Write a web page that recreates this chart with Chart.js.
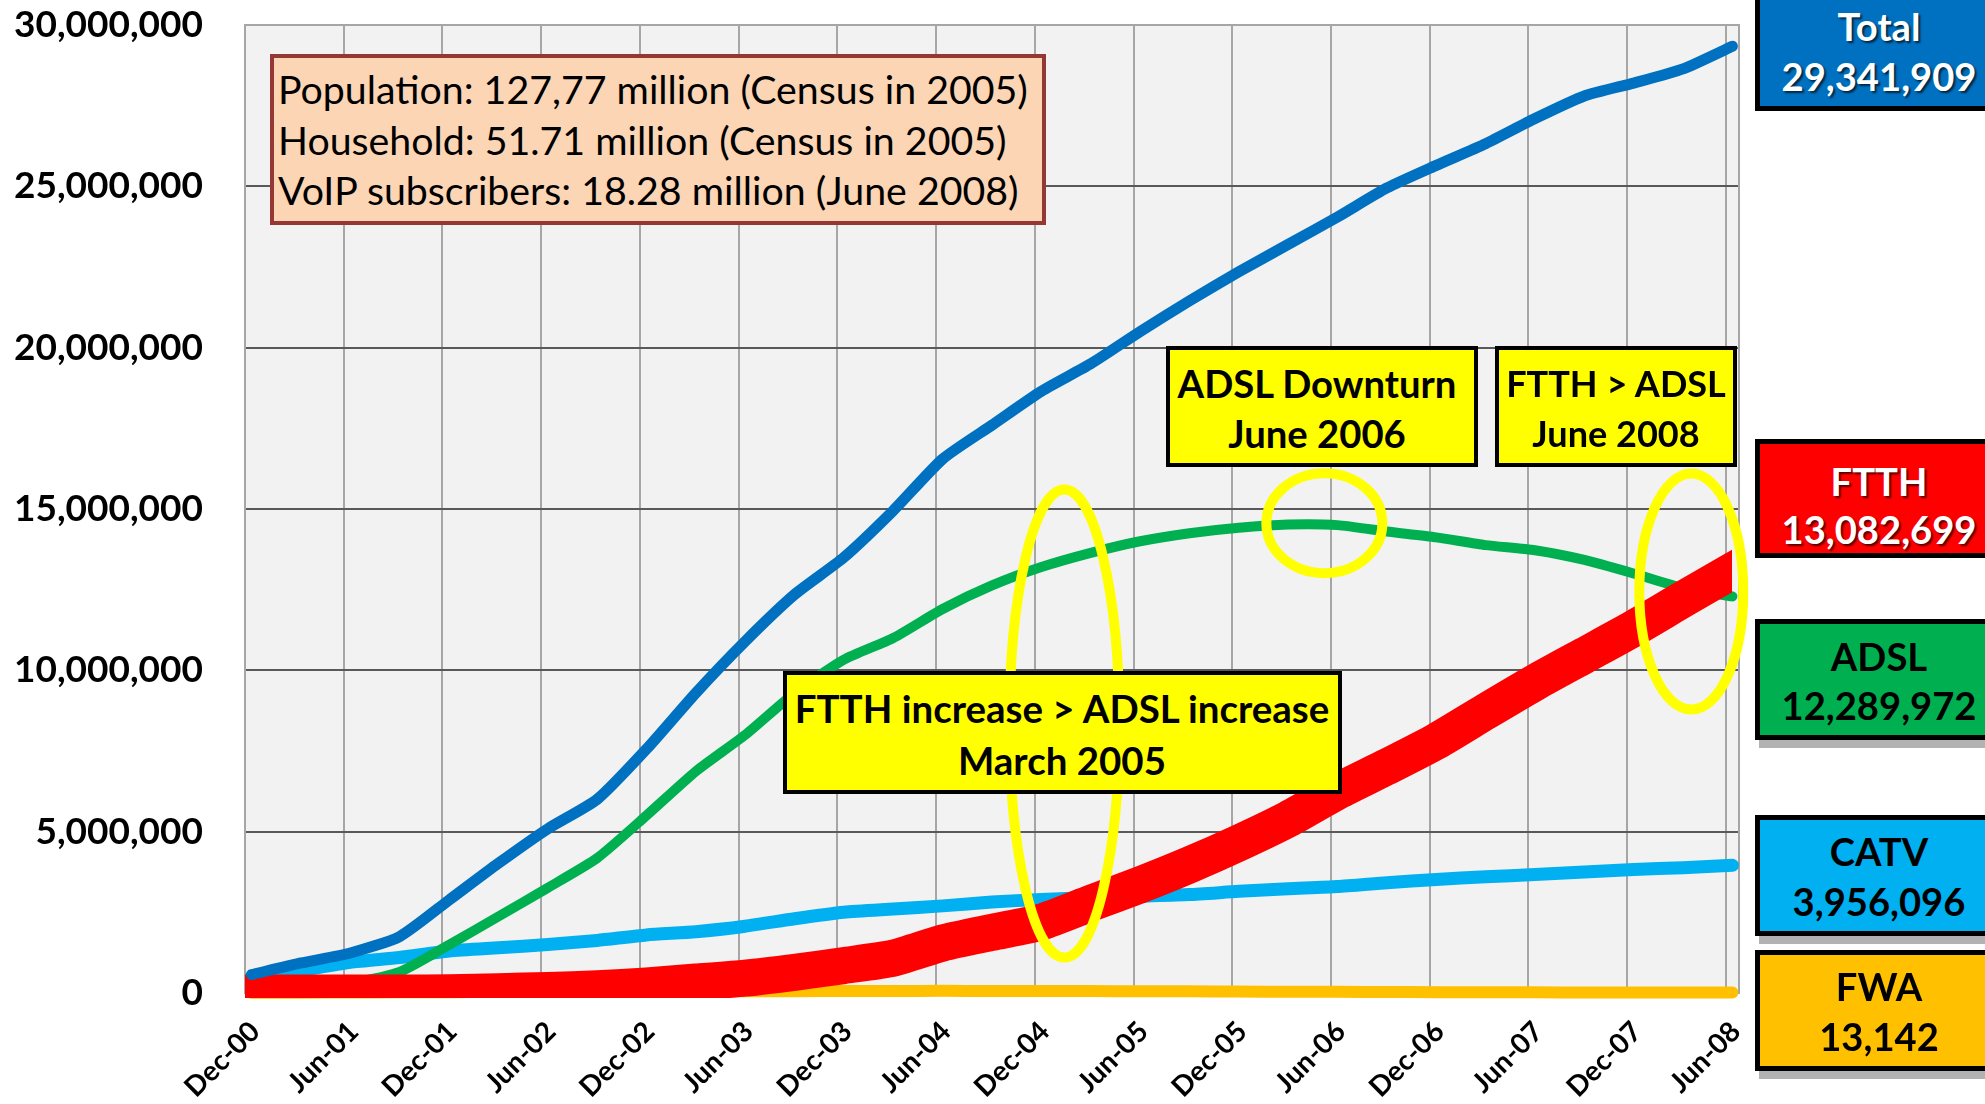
<!DOCTYPE html>
<html><head><meta charset="utf-8">
<script src="https://cdn.jsdelivr.net/npm/chart.js@4.4.1/dist/chart.umd.min.js"></script>
<style>
html,body{margin:0;padding:0;background:#fff;overflow:hidden;}
#wrap{position:relative;width:1985px;height:1104px;overflow:hidden;}
canvas{position:absolute;left:0;top:0;}
.box{position:absolute;box-sizing:border-box;}
.t{position:absolute;white-space:nowrap;font-family:Lato,sans-serif;line-height:1;transform:translate(-50%,-50%);}
.tl{position:absolute;white-space:nowrap;font-family:Lato,sans-serif;line-height:1;transform:translate(0,-50%);}
</style></head><body>
<div id="wrap"><canvas id="c" width="1985" height="1104"></canvas></div>
<script>
// ---- data ----
const quarters = ['Dec-00','Mar-01','Jun-01','Sep-01','Dec-01','Mar-02','Jun-02','Sep-02','Dec-02','Mar-03','Jun-03','Sep-03','Dec-03','Mar-04','Jun-04','Sep-04','Dec-04','Mar-05','Jun-05','Sep-05','Dec-05','Mar-06','Jun-06','Sep-06','Dec-06','Mar-07','Jun-07','Sep-07','Dec-07','Mar-08','Jun-08'];
const tickLabels = ['Dec-00','Jun-01','Dec-01','Jun-02','Dec-02','Jun-03','Dec-03','Jun-04','Dec-04','Jun-05','Dec-05','Jun-06','Dec-06','Jun-07','Dec-07','Jun-08'];
const yTicks = [0, 5000000, 10000000, 15000000, 20000000, 25000000, 30000000];
const total = [570000, 930000, 1240000, 1750000, 2880000, 4020000, 5090000, 6000000, 7560000, 9300000, 10900000, 12350000, 13500000, 14950000, 16550000, 17600000, 18650000, 19500000, 20500000, 21450000, 22350000, 23200000, 24050000, 24950000, 25650000, 26320000, 27100000, 27800000, 28200000, 28640000, 29341909];
const ftth  = [0, 0, 0, 0, 10000, 40000, 80000, 130000, 220000, 340000, 460000, 640000, 850000, 1080000, 1550000, 1880000, 2200000, 2780000, 3350000, 3970000, 4650000, 5390000, 6250000, 7010000, 7800000, 8720000, 9620000, 10460000, 11300000, 12200000, 13082699];
const adsl  = [50000, 100000, 300000, 650000, 1490000, 2370000, 3260000, 4180000, 5500000, 6870000, 8000000, 9300000, 10330000, 11000000, 11900000, 12630000, 13200000, 13640000, 14000000, 14250000, 14420000, 14520000, 14500000, 14300000, 14120000, 13880000, 13720000, 13420000, 13000000, 12550000, 12289972];
const catv  = [520000, 700000, 950000, 1100000, 1300000, 1400000, 1500000, 1630000, 1800000, 1900000, 2070000, 2300000, 2500000, 2600000, 2700000, 2820000, 2900000, 2950000, 3000000, 3050000, 3150000, 3230000, 3300000, 3420000, 3520000, 3600000, 3670000, 3750000, 3830000, 3880000, 3956096];
const fwa   = [4000, 9000, 16000, 21000, 27000, 31000, 36000, 42000, 44000, 51000, 55000, 58000, 61000, 63000, 66000, 64000, 61000, 59000, 54000, 51000, 44000, 41000, 36000, 31000, 26000, 23000, 20000, 18000, 16000, 14500, 13142];

// ---- helpers ----
const MON = {Jan:1,Feb:2,Mar:3,Apr:4,May:5,Jun:6,Jul:7,Aug:8,Sep:9,Oct:10,Nov:11,Dec:12};
function monthIndex(lbl){ const [m,y]=lbl.split('-'); return (2000+parseInt(y,10))*12+MON[m]-(2000*12+12); }
const END_OF_MONTH = 0.4;
function xy(arr){ return arr.map((v,i)=>({x: monthIndex(quarters[i])+END_OF_MONTH, y: v})); }
const fmt = v => Math.round(v).toLocaleString('en-US');

const plotFrame = {
  id:'plotFrame',
  beforeDraw(chart){
    const {ctx, chartArea:a} = chart;
    ctx.save(); ctx.fillStyle='#F2F2F2';
    ctx.fillRect(a.left,a.top,a.right-a.left,a.bottom-a.top); ctx.restore();
  },
  beforeDatasetsDraw(chart){
    const {ctx, chartArea:a} = chart;
    ctx.save(); ctx.strokeStyle='#A6A6A6'; ctx.lineWidth=2;
    ctx.beginPath(); ctx.moveTo(a.left,a.top); ctx.lineTo(a.right,a.top); ctx.lineTo(a.right,a.bottom); ctx.stroke();
    ctx.restore();
  }
};
const ellipses = [
  {x: 49.8, y: 8350000, rx: 55, ry: 234},
  {x: 65.6, y: 14560000, rx: 58, ry: 50},
  {x: 87.9, y: 12440000, rx: 52, ry: 118}
];
const ellipsePlugin = {
  id:'ellipses',
  afterDatasetsDraw(chart){
    const {ctx, scales:{x, y}} = chart;
    ctx.save(); ctx.strokeStyle='#FFFF00'; ctx.lineWidth=10;
    ellipses.forEach(e=>{
      ctx.beginPath();
      ctx.ellipse(x.getPixelForValue(e.x), y.getPixelForValue(e.y), e.rx, e.ry, 0, 0, Math.PI*2);
      ctx.stroke();
    });
    ctx.restore();
  }
};

Chart.defaults.font.family = 'Lato';
const base = {pointRadius:0, pointHoverRadius:0, tension:0.2, borderJoinStyle:'round', borderCapStyle:'round', clip:false, fill:false};
new Chart(document.getElementById('c'), {
  type:'line',
  data:{ datasets:[
    Object.assign({}, base, {label:'Total', data: xy(total), borderColor:'#0070C0', borderWidth:11}),
    Object.assign({}, base, {label:'FTTH', data: xy(ftth), borderColor:'#FF0000', borderWidth:37, borderCapStyle:'square', clip:{left:0, top:false, right:-7, bottom:5}}),
    Object.assign({}, base, {label:'ADSL', data: xy(adsl), borderColor:'#00B050', borderWidth:10}),
    Object.assign({}, base, {label:'CATV', data: xy(catv), borderColor:'#00B0F0', borderWidth:13}),
    Object.assign({}, base, {label:'FWA', data: xy(fwa), borderColor:'#FFC000', borderWidth:12})
  ]},
  options:{
    responsive:false, animation:false, devicePixelRatio:1,
    layout:{padding:{left:0, top:25, right:246, bottom:0}},
    plugins:{legend:{display:false}, tooltip:{enabled:false}},
    scales:{
      x:{
        type:'linear', min:0, max:90.8,
        afterBuildTicks: ax => { ax.ticks = tickLabels.map(l => ({value: monthIndex(l)})); },
        afterCalculateLabelRotation: s => { s.labelRotation = 45; },
        afterFit: s => { s.height = 111; s.paddingLeft = 0; s.paddingRight = 0; },
        grid:{color:'#A6A6A6', lineWidth:2, drawTicks:false},
        border:{color:'#A6A6A6', width:2},
        ticks:{autoSkip:false, minRotation:45, maxRotation:45, padding:22, labelOffset:10, color:'#000',
          font:{size:28, weight:'bold'}, callback:(v,i)=>tickLabels[i]}
      },
      y:{
        min:0, max:30000000,
        afterBuildTicks: ax => { ax.ticks = yTicks.map(v => ({value:v})); },
        afterFit: s => { s.width = 245; s.paddingTop = 0; s.paddingBottom = 0; },
        grid:{color: c => (c.tick && c.tick.value >= 30000000) ? '#A6A6A6' : '#595959', lineWidth:2, drawTicks:false},
        border:{color:'#A6A6A6', width:2},
        ticks:{padding:42, color:'#000', font:{size:37, weight:'bold'}, callback: v => fmt(v)}
      }
    }
  },
  plugins:[plotFrame, ellipsePlugin]
});

// ---- annotations (HTML text) ----
const wrap = document.getElementById('wrap');
const mctx = document.createElement('canvas').getContext('2d');
function fitSize(text, weight, target){ mctx.font = weight+' 100px Lato'; return 100*target/mctx.measureText(text).width; }
function box(l,t,w,h,bg,border,bw){ const d=document.createElement('div'); d.className='box';
  Object.assign(d.style,{left:l+'px',top:t+'px',width:w+'px',height:h+'px',background:bg,border:bw+'px solid '+border}); wrap.appendChild(d); return d; }
function txt(s,cx,cy,size,weight,color,cls,extra){ const d=document.createElement('div'); d.className=cls||'t'; d.textContent=s;
  Object.assign(d.style,{left:cx+'px',top:cy+'px',fontSize:size+'px',fontWeight:weight,color:color}, extra||{}); wrap.appendChild(d); return d; }

// info box
box(270,54,776,171,'#FCD5B5','#953735',4);
const infoLines = ['Population: 127,77 million (Census in 2005)','Household: 51.71 million (Census in 2005)','VoIP subscribers: 18.28 million (June 2008)'];
const infoSize = fitSize(infoLines[0],'normal',750);
[89,139.5,190].forEach((cy,i)=>txt(infoLines[i],278,cy,infoSize,'normal','#000','tl'));

// yellow callouts
function callout(l,t,w,h,lines,target,cx,ys){
  box(l,t,w,h,'#FFFF00','#000',4);
  const s = fitSize(lines[0],'bold',target);
  lines.forEach((ln,i)=>txt(ln,cx,ys[i],s,'bold','#000'));
}
callout(1166,346,312,121,['ADSL Downturn','June 2006'],280,1317,[383,433]);
callout(1495,346,242,121,['FTTH > ADSL','June 2008'],221,1616,[383,433]);
callout(783,671,559,123,['FTTH increase > ADSL increase','March 2005'],537,1062,[708,760]);

// right-side value labels
const sideSize = fitSize('29,341,909','bold',195);
const sides = [
  {name:'Total', val: total[total.length-1], top:-10, h:121, bg:'#0070C0', color:'#fff', shadow:false, cy:[26,76]},
  {name:'FTTH', val: ftth[ftth.length-1], top:439, h:119, bg:'#FF0000', color:'#fff', shadow:false, cy:[481,529]},
  {name:'ADSL', val: adsl[adsl.length-1], top:619, h:121, bg:'#00B050', color:'#000', shadow:true, cy:[656,705]},
  {name:'CATV', val: catv[catv.length-1], top:815, h:121, bg:'#00B0F0', color:'#000', shadow:true, cy:[851,901]},
  {name:'FWA', val: fwa[fwa.length-1], top:950, h:121, bg:'#FFC000', color:'#000', shadow:true, cy:[986,1036]}
];
sides.forEach(s=>{
  if (s.shadow) box(1759, s.top+8, 260, s.h, '#B2B2B2', '#B2B2B2', 0);
  box(1755, s.top, 260, s.h, s.bg, '#000', 5);
  const ex = s.color==='#fff' ? {textShadow:'2px 2px 2px rgba(0,0,0,0.65)'} : {};
  txt(s.name, 1879, s.cy[0], sideSize, 'bold', s.color, 't', ex);
  txt(fmt(s.val), 1879, s.cy[1], sideSize, 'bold', s.color, 't', ex);
});
</script>
</body></html>
